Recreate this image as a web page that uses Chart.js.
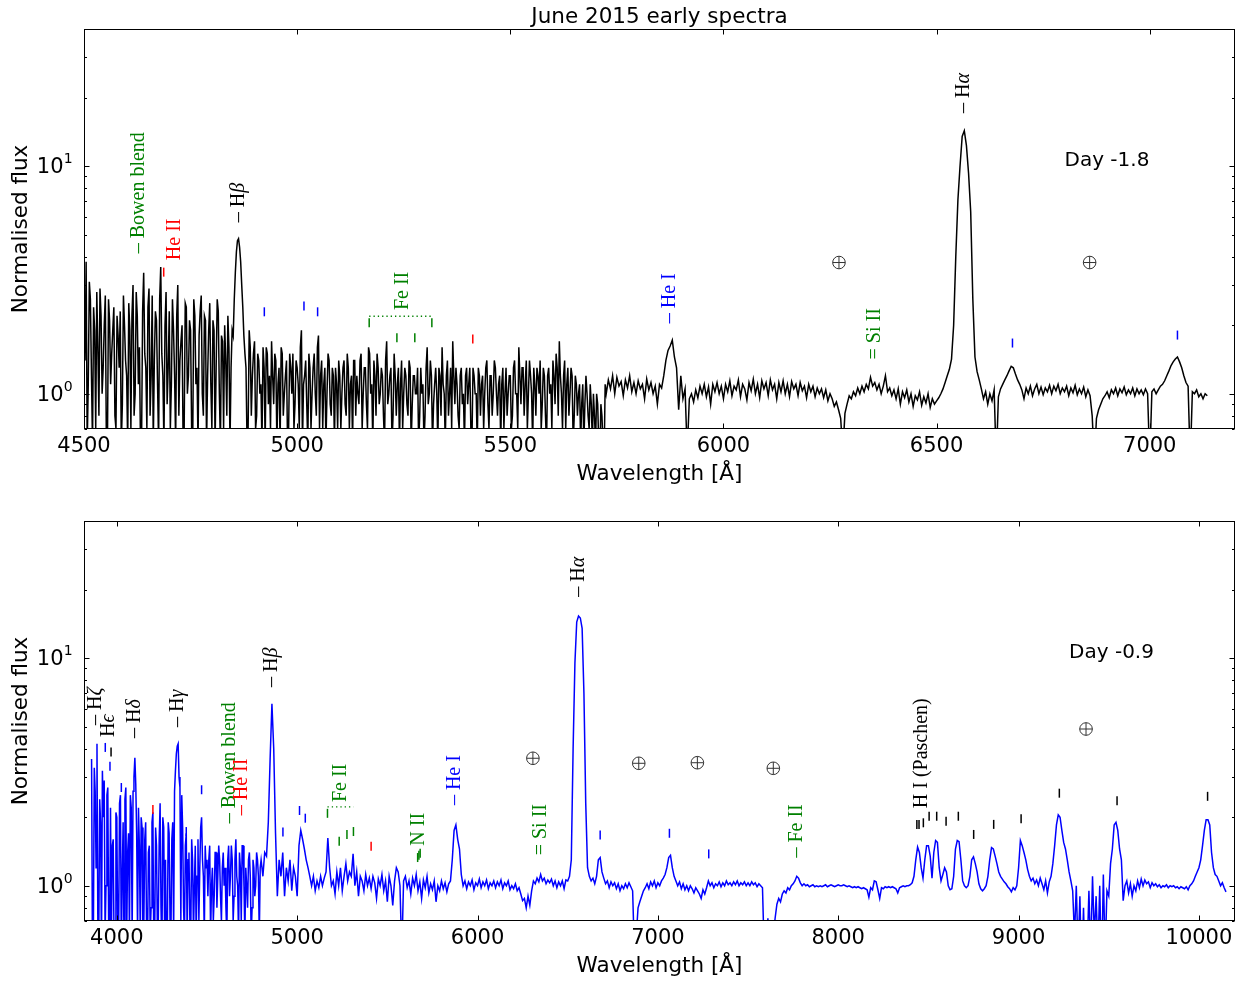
<!DOCTYPE html>
<html>
<head>
    <meta charset="UTF-8">
    <title>June 2015 early spectra</title>
    <script src="https://cdn.jsdelivr.net/npm/chart.js@4.4.0/dist/chart.umd.min.js"></script>
    <style>
        body { margin: 0; background: #fff; }
        canvas { display: block; }
    </style>
</head>
<body>
    <canvas id="topPanel" width="1247" height="490"></canvas>
    <canvas id="bottomPanel" width="1247" height="493"></canvas>

    <script>
        // ---- Day -1.8 spectrum (black), 5 A grid starting at 4500 A ----
        const topStart = 4500;
        const topStep = 5;
        const topFlux = [
            2.9, 3.8, 1.1, 2.6, 0.6, 1.9, 2.8, 0.8, 2.2, 1.3, 2.7, 0.6, 2.1, 1.5, 2.4, 0.7, 1.8, 2.3, 0.9, 2.0,   // 4500
            1.2, 2.5, 0.7, 3.0, 1.0, 2.2, 1.6, 0.6, 3.4, 1.3, 2.4, 0.8, 2.7, 1.4, 2.1, 0.6, 3.6, 1.2, 2.0, 0.9,   // 4600
            2.3, 1.1, 1.9, 0.6, 3.0, 1.4, 2.0, 0.7, 2.4, 1.2, 1.9, 0.6, 2.2, 1.3, 1.8, 2.7, 0.8, 2.1, 1.2, 2.5,   // 4700
            0.7, 1.9, 1.3, 2.3, 0.6, 1.7, 2.0, 0.8, 1.6, 1.3, 1.8, 3.4, 4.7, 4.4, 3.0, 1.8, 1.3, 0.7, 1.6, 1.2,   // 4800
            1.7, 0.8, 1.4, 1.1, 1.6, 0.6, 1.5, 1.2, 1.7, 0.9, 1.4, 1.1, 0.6, 1.5, 1.0, 1.4, 0.7, 1.3, 1.5, 0.9,   // 4900
            1.3, 0.7, 1.9, 1.1, 1.4, 0.6, 1.3, 1.0, 1.5, 0.8, 1.8, 1.2, 0.7, 1.3, 1.0, 1.4, 0.8, 1.2, 1.3, 0.7,   // 5000
            1.2, 1.0, 1.4, 0.8, 1.3, 1.1, 0.6, 1.4, 1.2, 0.9, 1.5, 1.0, 1.3, 0.7, 1.5, 1.1, 1.4, 0.8, 1.3, 1.0,   // 5100
            1.2, 0.6, 1.7, 1.0, 1.3, 0.8, 1.2, 1.1, 0.6, 1.4, 1.0, 1.2, 0.8, 1.3, 0.9, 1.2, 1.0, 0.6, 1.3, 1.1,   // 5200
            0.8, 1.6, 1.0, 1.2, 0.9, 1.3, 0.6, 1.2, 1.6, 1.0, 1.2, 0.8, 1.3, 1.7, 0.9, 1.1, 0.7, 1.3, 1.0, 1.2,   // 5300
            0.9, 1.3, 0.6, 1.2, 1.0, 1.3, 0.8, 1.2, 1.0, 1.4, 0.7, 1.2, 1.0, 1.3, 0.8, 1.2, 1.1, 0.7, 1.3, 1.0,   // 5400
            1.2, 0.8, 1.4, 1.0, 1.6, 0.9, 1.3, 1.1, 0.7, 1.4, 1.0, 1.3, 0.8, 1.2, 1.4, 0.9, 1.2, 0.6, 1.3, 1.1,   // 5500
            1.4, 0.9, 1.3, 1.7, 1.0, 1.2, 0.7, 1.3, 1.0, 1.2, 0.8, 1.1, 1.0, 0.6, 1.1, 0.9, 1.0, 0.7, 0.9, 1.0,   // 5600
            0.6, 0.9, 0.5, 0.8, 0.5, 1.0, 1.15, 1.05, 1.2, 1.0, 1.18, 1.08, 1.13, 0.98, 1.15, 1.06, 1.2, 1.02, 1.12, 1.0,   // 5700
            1.14, 1.05, 1.1, 0.95, 1.16, 1.04, 1.12, 1.0, 1.08, 0.9, 1.1, 1.06, 1.2, 1.4, 1.55, 1.62, 1.72, 1.45, 1.3, 0.85, // 5800
            1.2, 0.95, 1.05, 0.55, 0.95, 1.0, 0.92, 1.04, 0.96, 1.08, 1.0, 1.1, 0.97, 1.07, 0.9, 1.1, 1.02, 1.12, 1.0, 1.08, // 5900
            0.95, 1.1, 1.02, 1.14, 0.98, 1.08, 1.04, 1.15, 0.97, 1.1, 1.05, 0.94, 1.12, 1.03, 1.16, 1.0, 1.1, 0.96, 1.14, 1.05, // 6000
            1.12, 0.98, 1.15, 1.04, 1.1, 0.95, 1.12, 1.02, 1.14, 1.0, 1.1, 0.97, 1.13, 1.05, 1.1, 0.98, 1.12, 1.03, 1.08, 0.96, // 6100
            1.1, 1.02, 1.08, 0.97, 1.06, 1.0, 1.05, 0.96, 1.04, 0.93, 1.0, 0.95, 0.88, 0.92, 0.85, 0.78, 0.55, 0.82, 0.9, 0.98, // 6200
            0.95, 1.02, 0.98, 1.06, 1.0, 1.08, 1.02, 1.1, 1.05, 1.18, 1.08, 1.12, 1.04, 1.1, 1.0, 1.08, 1.2, 1.02, 1.06, 0.98,  // 6300
            1.04, 0.95, 1.05, 0.9, 1.02, 0.96, 1.04, 0.92, 1.0, 0.88, 0.98, 0.94, 1.02, 0.89, 0.97, 0.91, 1.0, 0.87, 0.95, 0.9,  // 6400
            0.93, 0.96, 1.0, 1.05, 1.12, 1.2, 1.28, 1.42, 2.0, 4.0, 7.1, 10.0, 13.5, 14.3, 12.3, 9.3, 6.3, 2.6, 1.45, 1.25,      // 6500
            1.15, 1.05, 0.95, 1.02, 0.9, 1.0, 0.93, 1.04, 0.5, 0.97, 1.05, 1.1, 1.15, 1.2, 1.26, 1.32, 1.3, 1.22, 1.15, 1.1,     // 6600
            1.04, 0.95, 1.06, 1.0, 1.08, 0.98, 1.05, 1.1, 1.0, 1.07, 0.99, 1.06, 1.02, 1.09, 1.0, 1.08, 1.03, 1.1, 1.0, 1.06,    // 6700
            1.02, 1.08, 0.98, 1.06, 1.01, 1.09, 0.99, 1.05, 1.0, 1.07, 0.97, 1.04, 0.98, 0.8, 0.5, 0.78, 0.85, 0.9, 0.95, 0.98,  // 6800
            1.02, 0.96, 1.04, 1.0, 1.06, 0.98, 1.05, 1.01, 1.07, 0.99, 1.04, 1.0, 1.06, 0.98, 1.05, 1.0, 1.04, 0.99, 1.05, 1.0,  // 6900
            0.5, 1.02, 1.05, 1.0, 1.04, 1.08, 1.1, 1.14, 1.2, 1.26, 1.33, 1.38, 1.42, 1.45, 1.38, 1.3, 1.2, 1.12, 1.08, 0.5,     // 7000
            1.02, 1.0, 1.04, 0.97, 1.0, 0.95, 1.0, 0.98                                                                        // 7100
        ];
        // extra samples half-way between the ones above, in the noisy blue end (4502.5 .. 5722.5)
        const topMidStart = 4502.5;
        const topMidFlux = [
            1.4, 0.6, 3.1, 1.2, 2.4, 0.7, 1.6, 2.9, 1.0, 2.0, 0.6, 2.6, 1.1, 1.9, 0.8, 2.2, 1.3, 0.6, 2.7, 1.4,   // 4500
            0.6, 1.9, 2.2, 0.8, 2.8, 1.1, 0.6, 2.3, 1.5, 0.7, 2.9, 1.2, 0.6, 2.3, 1.1, 2.6, 1.5, 0.6, 2.8, 1.3,   // 4600
            0.7, 2.6, 1.2, 2.2, 0.8, 1.7, 0.6, 2.5, 1.0, 2.1, 0.7, 2.6, 1.1, 0.6, 2.3, 1.0, 2.2, 0.6, 1.9, 1.1,   // 4700
            2.1, 0.6, 2.6, 1.0, 1.8, 0.7, 1.4, 2.2, 0.6, 1.9, 2.6, 4.2, 4.8, 3.8, 2.4, 1.5, 0.6, 1.9, 0.8, 1.5,   // 4800
            0.7, 1.5, 1.0, 0.6, 1.3, 1.6, 0.9, 0.7, 1.2, 1.5, 0.6, 1.3, 1.6, 0.8, 1.2, 0.6, 1.5, 1.0, 0.7, 1.4,   // 4900
            1.1, 1.6, 0.6, 1.2, 0.9, 1.5, 0.7, 1.3, 1.0, 1.6, 0.7, 1.4, 1.1, 0.6, 1.5, 0.9, 1.3, 0.6, 1.1, 1.4,   // 5000
            0.7, 1.3, 0.9, 1.5, 0.7, 1.2, 1.4, 0.8, 1.0, 1.4, 0.7, 1.3, 0.9, 1.6, 1.0, 0.6, 1.2, 1.5, 0.9, 1.3,   // 5100
            0.8, 1.4, 0.9, 1.2, 0.6, 1.5, 0.8, 1.3, 1.1, 0.7, 1.3, 0.9, 1.4, 0.6, 1.2, 1.0, 1.3, 0.8, 1.0, 0.6,   // 5200
            1.3, 0.9, 1.4, 0.6, 1.1, 1.0, 1.3, 0.8, 1.1, 0.6, 1.4, 1.0, 0.7, 1.2, 1.3, 0.8, 1.2, 0.9, 0.6, 1.3,   // 5300
            1.1, 0.7, 1.3, 1.0, 0.6, 1.2, 1.1, 0.7, 1.3, 0.9, 1.2, 0.8, 1.4, 1.0, 1.1, 0.6, 1.3, 1.0, 0.8, 1.2,   // 5400
            0.7, 1.3, 1.0, 0.7, 1.2, 1.3, 0.8, 1.4, 1.0, 1.2, 0.6, 1.1, 1.3, 1.0, 0.7, 1.3, 0.8, 1.2, 1.0, 0.7,   // 5500
            1.2, 1.5, 0.8, 1.2, 0.7, 1.4, 1.1, 0.8, 1.3, 0.6, 1.2, 0.8, 1.1, 0.9, 0.6, 1.2, 0.8, 1.1, 0.6, 0.8,   // 5600
            1.0, 0.6, 0.9, 0.6, 1.1                                                                             // 5700
        ];

        // ---- Day -0.9 spectrum (blue), 10 A grid starting at 3860 A ----
        const bottomStart = 3860;
        const bottomStep = 10;
        const bottomFlux = [
            3.6, 0.6, 2.6, 4.2, 0.6, 1.9, 3.2, 2.9, 1.0, 2.7, 0.5, 0.6, 1.6, 0.6,   // 3860
            2.0, 0.6, 2.5, 1.1, 0.5, 2.7, 1.4, 0.6, 2.2, 2.6,       // 4000
            3.65, 1.7, 2.2, 0.6, 1.8, 0.7, 1.9, 0.5, 1.5, 0.8,      // 4100
            2.1, 0.6, 1.5, 0.7, 2.3, 0.5, 1.8, 1.3, 0.6, 1.7,       // 4200
            0.6, 1.9, 2.6, 3.8, 4.2, 2.7, 2.5, 0.8, 1.5, 0.6,       // 4300
            1.4, 0.6, 1.3, 1.0, 0.6, 1.6, 1.2, 2.0, 1.1, 1.5,       // 4400
            1.3, 1.3, 0.6, 1.2, 0.9, 1.4, 1.1, 1.3, 0.7, 1.4,       // 4500
            1.2, 0.6, 1.5, 1.1, 1.3, 0.9, 1.6, 1.0, 1.4, 0.7,       // 4600
            1.5, 0.6, 1.0, 1.3, 1.1, 0.8, 1.2, 1.0, 1.3, 0.6,       // 4700
            1.3, 1.1, 1.4, 1.35, 1.9, 3.6, 6.3, 4.0, 1.7, 0.9,      // 4800
            1.3, 1.1, 1.4, 0.9, 1.2, 1.05, 1.3, 0.95, 1.2, 1.1,     // 4900
            0.9, 1.5, 1.75, 1.6, 1.45, 1.3, 1.2, 1.1, 1.0, 1.1,     // 5000
            0.95, 1.05, 0.98, 1.1, 1.0, 1.08, 1.15, 1.62, 1.2, 1.0, // 5100
            1.05, 0.92, 1.15, 1.0, 1.2, 0.95, 1.1, 1.25, 1.05, 1.15,// 5200
            1.1, 1.38, 1.0, 1.15, 0.9, 1.1, 1.05, 0.95, 1.12, 1.0,  // 5300
            1.08, 0.97, 1.1, 1.03, 0.88, 1.07, 1.0, 1.12, 0.95, 1.05,   // 5400
            0.85, 1.1, 1.0, 0.82, 1.05, 1.2, 1.15, 1.0, 0.5, 1.05,      // 5500
            1.1, 0.98, 1.05, 0.92, 1.08, 1.0, 1.12, 0.95, 1.04, 0.88,   // 5600
            1.06, 0.98, 1.1, 0.93, 1.02, 0.96, 1.05, 0.85, 1.0, 0.95,   // 5700
            1.05, 0.97, 1.03, 0.94, 1.02, 1.05, 1.3, 1.75, 1.85, 1.6,   // 5800
            1.45, 1.12, 1.0, 1.05, 0.97, 1.04, 1.0, 1.06, 0.96, 1.03,   // 5900
            1.0, 1.07, 0.98, 1.04, 1.0, 1.06, 0.97, 1.03, 1.0, 1.05,    // 6000
            0.98, 1.04, 1.0, 1.06, 0.97, 1.03, 1.0, 1.05, 0.96, 1.0,    // 6100
            0.97, 1.02, 0.95, 0.98, 0.92, 0.86, 0.88, 0.8, 0.9, 0.82,   // 6200
            0.95, 1.05, 1.02, 1.08, 1.04, 1.12, 1.05, 1.08, 1.02, 1.06, // 6300
            1.03, 1.07, 1.0, 1.05, 0.98, 1.04, 1.0, 1.05, 0.97, 1.06,   // 6400
            1.05, 1.1, 1.3, 4.0, 9.5, 14.4, 15.3, 15.0, 13.5, 7.0,      // 6500
            2.3, 1.2, 1.1, 1.05, 1.08, 1.02, 1.1, 1.3, 1.33, 1.15,      // 6600
            1.08, 1.02, 1.05, 0.98, 1.04, 1.0, 1.03, 0.97, 1.02, 0.95,  // 6700
            1.0, 0.97, 1.02, 0.98, 1.03, 0.99, 0.95, 0.5, 0.6, 0.8,     // 6800
            0.85, 0.9, 0.95, 0.98, 1.02, 0.97, 1.04, 1.0, 1.05, 0.98,   // 6900
            1.03, 1.0, 1.05, 1.08, 1.12, 1.2, 1.33, 1.36, 1.2, 1.1,     // 7000
            1.05, 1.0, 1.04, 0.97, 1.02, 0.96, 1.0, 0.95, 1.0, 0.97,    // 7100
            0.93, 0.98, 0.95, 0.92, 0.88, 0.96, 0.92, 0.98, 1.05, 1.0,  // 7200
            1.03, 0.98, 1.02, 1.0, 1.04, 0.99, 1.03, 1.0, 1.05, 1.01,   // 7300
            1.03, 1.0, 1.04, 1.01, 1.05, 1.0, 1.03, 1.01, 1.04, 1.0,    // 7400
            1.03, 1.0, 1.04, 1.01, 1.03, 0.99, 1.02, 1.0, 0.98, 0.5,    // 7500
            0.4, 0.72, 0.4, 0.5, 0.6, 0.72, 0.83, 0.88, 0.85, 0.92,     // 7600
            0.95, 0.93, 0.98, 0.96, 1.0, 1.02, 1.05, 1.1, 1.08, 1.03,   // 7700
            1.0, 1.02, 1.0, 1.01, 0.99, 1.0, 1.01, 0.99, 1.0, 0.99,     // 7800
            1.0, 0.99, 1.0, 1.01, 0.99, 1.0, 1.01, 1.0, 0.99, 1.0,      // 7900
            1.01, 1.0, 1.0, 1.01, 1.0, 0.99, 1.0, 0.99, 0.98, 0.99,     // 8000
            0.98, 0.99, 0.98, 0.97, 0.98, 0.97, 0.96, 0.89, 0.98, 0.96, // 8100
            1.05, 1.04, 0.96, 0.88, 0.98, 0.97, 0.99, 0.98, 0.99, 0.98, // 8200
            0.99, 0.98, 0.97, 0.93, 0.98, 0.99, 1.0, 0.99, 1.0, 1.0,    // 8300
            1.01, 1.03, 1.1, 1.3, 1.48, 1.4, 1.2, 1.08, 1.3, 1.5,       // 8400
            1.5, 1.35, 1.08, 1.4, 1.58, 1.55, 1.2, 1.05, 1.12, 1.2,     // 8500
            1.15, 1.0, 0.96, 0.97, 1.1, 1.45, 1.58, 1.56, 1.3, 1.05,    // 8600
            1.0, 0.98, 1.0, 1.1, 1.3, 1.34, 1.25, 1.15, 1.02, 0.97,     // 8700
            0.95, 0.97, 1.0, 1.1, 1.3, 1.47, 1.45, 1.35, 1.25, 1.15,    // 8800
            1.1, 1.07, 1.04, 1.02, 0.99, 0.97, 0.94, 0.98, 0.96, 1.0,   // 8900
            1.2, 1.58, 1.5, 1.4, 1.3, 1.18, 1.1, 1.05, 1.08, 1.02,      // 9000
            1.06, 1.0, 1.08, 1.02, 0.96, 1.05, 0.93, 1.04, 1.1, 1.25,   // 9100
            1.5, 1.85, 2.05, 2.0, 1.75, 1.55, 1.45, 1.3, 1.15, 1.05,    // 9200
            0.95, 0.6, 1.0, 0.5, 0.9, 0.4, 0.8, 0.4, 0.5, 0.95,         // 9300
            0.5, 1.1, 0.6, 0.9, 0.5, 1.0, 0.4, 1.12, 0.5, 0.95,         // 9400
            0.9, 1.25, 1.45, 1.85, 1.9, 1.75, 1.45, 1.3, 0.86, 1.0,     // 9500
            1.05, 0.93, 1.02, 0.9, 1.0, 0.95, 1.05, 0.98, 1.07, 1.0,    // 9600
            1.06, 1.02, 1.04, 0.98, 1.03, 1.0, 1.02, 0.99, 1.01, 0.98,  // 9700
            1.0, 0.99, 1.01, 0.98, 1.0, 0.99, 1.0, 0.98, 0.99, 0.97,    // 9800
            0.99, 0.98, 0.97, 0.99, 0.96, 1.0, 1.02, 1.05, 1.1, 1.15,   // 9900
            1.2, 1.3, 1.5, 1.75, 1.95, 1.95, 1.85, 1.4, 1.2, 1.12,      // 10000
            1.1, 1.05, 1.0, 1.03, 0.98, 0.94                             // 10100
        ];
        // extra samples half-way between the ones above, in the noisy blue end (3865 .. 4795)
        const bottomMidStart = 3865;
        const bottomMidFlux = [
            0.5, 3.3, 1.2, 0.6, 2.4, 0.5, 2.0, 0.6, 2.5, 0.6, 2.2, 1.5, 0.5, 2.1,   // 3865
            0.6, 2.3, 0.5, 1.9, 2.4, 0.6, 1.7, 2.5, 0.6, 3.0,       // 4005
            2.8, 0.6, 1.5, 2.0, 0.5, 1.6, 0.6, 1.4, 0.6, 1.9,       // 4105
            0.5, 1.8, 0.6, 1.6, 0.8, 2.0, 0.6, 0.5, 1.9, 0.7,       // 4205
            1.6, 0.6, 3.2, 4.1, 3.0, 0.7, 1.8, 0.6, 1.7, 1.3,       // 4305
            0.7, 1.6, 0.6, 1.5, 1.1, 0.7, 1.8, 1.3, 0.6, 1.2,       // 4405
            0.9, 1.5, 1.0, 0.7, 1.4, 0.8, 1.5, 0.9, 1.2, 1.0,       // 4505
            0.8, 1.3, 0.9, 1.5, 0.7, 1.3, 1.1, 0.6, 1.2, 1.5,       // 4605
            1.0, 1.2, 0.8, 1.4, 0.6, 1.3, 0.9, 1.4, 1.1, 1.2        // 4705
        ];

        // tick values
        const topXTicks = [4500, 5000, 5500, 6000, 6500, 7000];
        const bottomXTicks = [4000, 5000, 6000, 7000, 8000, 9000, 10000];
        const yMajorTicks = [1, 10];
        const yMinorTicks = [0.7, 0.8, 0.9, 2, 3, 4, 5, 6, 7, 8, 9, 20, 30, 40];

        const K = '#000000', G = '#008000', R = '#ff0000', B = '#0000ff';

        // line labels: [wavelength, flux at start of text, text, colour]
        const topLabels = [
            [4628, 4.14, '– Bowen blend', G],
            [4712, 3.86, 'He II', R],
            [4862, 5.67, '– Hβ', K],
            [5248, 2.33, 'Fe II', G],
            [5874, 2.04, '– He I', B],
            [6355, 1.415, '= Si II', G],
            [6563, 17.1, '– Hα', K]
        ];
        // short line markers: [wavelength, flux, colour]
        const topMarks = [
            [4687, 3.42, R],
            [4923, 2.29, B], [5016, 2.43, B], [5048, 2.29, B],
            [5169, 2.05, G], [5234, 1.76, G], [5276, 1.76, G], [5316, 2.05, G],
            [5412, 1.74, R],
            [6678, 1.67, B], [7065, 1.81, B]
        ];
        const topTelluric = [[6271, 3.77], [6859, 3.77]];
        const topBrackets = [[5169, 5316, 2.19, G]];

        const bottomLabels = [
            [3884, 5.08, '– Hζ', K],
            [3955, 4.5, 'Hϵ', K],
            [4102, 4.46, '– Hδ', K],
            [4339, 4.98, '– Hγ', K],
            [4625, 1.88, '– Bowen blend', G],
            [4695, 2.04, '– He II', R],
            [4860, 7.47, '– Hβ', K],
            [5239, 2.33, 'Fe II', G],
            [5673, 1.50, 'N II', G],
            [5872, 2.26, '– He I', B],
            [6351, 1.36, '= Si II', G],
            [6560, 18.6, '– Hα', K],
            [7770, 1.33, '– Fe II', G],
            [8465, 2.19, 'H I (Paschen)', K]
        ];
        const bottomMarks = [
            [3936, 4.05, B], [3962, 3.35, B], [3968, 3.87, K],
            [4025, 2.70, B], [4200, 2.16, R], [4385, 1.73, B], [4470, 2.64, B],
            [4921, 1.72, B], [5013, 2.14, B], [5045, 1.98, B],
            [5168, 2.08, G], [5233, 1.57, G], [5276, 1.68, G], [5312, 1.73, G],
            [5410, 1.49, R],
            [5668, 1.33, G], [5675, 1.36, G], [5682, 1.39, G],
            [6680, 1.67, B], [7064, 1.70, B], [7282, 1.38, B],
            [8436, 1.86, K], [8448, 1.86, K], [8472, 1.89, K], [8504, 2.02, K], [8546, 2.02, K],
            [8598, 1.92, K], [8666, 2.02, K], [8751, 1.68, K], [8862, 1.86, K], [9014, 1.97, K],
            [9226, 2.55, K], [9546, 2.36, K], [10048, 2.47, K]
        ];
        const bottomTelluric = [[6307, 3.63], [6894, 3.45], [7219, 3.47], [7640, 3.28], [9374, 4.88]];
        const bottomBrackets = [[5168, 5312, 2.22, G]];

        const SANS = '"DejaVu Sans", sans-serif';
        const SERIF = '20px "Liberation Serif", serif';
        const SERIF_IT = 'italic 20px "Liberation Serif", serif';
        const GREEK = /[\u0370-\u03ff]/;

        const panels = {
            topPanel: {
                title: 'June 2015 early spectra', day: [6800, 10, 'Day -1.8'],
                xTicks: topXTicks, labels: topLabels, marks: topMarks,
                telluric: topTelluric, brackets: topBrackets
            },
            bottomPanel: {
                title: null, day: [9280, 10, 'Day -0.9'],
                xTicks: bottomXTicks, labels: bottomLabels, marks: bottomMarks,
                telluric: bottomTelluric, brackets: bottomBrackets
            }
        };

        function drawRotated(ctx, px, py, text, color) {
            ctx.save();
            ctx.translate(px, py);
            ctx.rotate(-Math.PI / 2);
            ctx.fillStyle = color;
            ctx.textBaseline = 'middle';
            ctx.textAlign = 'left';
            let cx = 0;
            for (const ch of text) {
                ctx.font = GREEK.test(ch) ? SERIF_IT : SERIF;
                ctx.fillText(ch, cx, 0);
                cx += ctx.measureText(ch).width;
            }
            ctx.restore();
        }

        const decor = {
            id: 'decor',
            afterDatasetsDraw(chart) {
                const p = panels[chart.canvas.id];
                const ctx = chart.ctx;
                const a = chart.chartArea;
                const x = chart.scales.x, y = chart.scales.y;
                ctx.save();

                // line identifications
                p.labels.forEach(([w, f, t, c]) => drawRotated(ctx, x.getPixelForValue(w), y.getPixelForValue(f), t, c));
                ctx.lineWidth = 1.5;
                p.marks.forEach(([w, f, c]) => {
                    const px = x.getPixelForValue(w), py = y.getPixelForValue(f);
                    ctx.strokeStyle = c;
                    ctx.beginPath();
                    ctx.moveTo(px, py - 4.5);
                    ctx.lineTo(px, py + 4.5);
                    ctx.stroke();
                });
                p.brackets.forEach(([w1, w2, f, c]) => {
                    const py = y.getPixelForValue(f);
                    ctx.strokeStyle = c;
                    ctx.lineWidth = 1.3;
                    ctx.setLineDash([1.3, 3]);
                    ctx.beginPath();
                    ctx.moveTo(x.getPixelForValue(w1), py);
                    ctx.lineTo(x.getPixelForValue(w2), py);
                    ctx.stroke();
                    ctx.setLineDash([]);
                });
                // telluric symbols
                ctx.strokeStyle = '#333';
                ctx.lineWidth = 1;
                p.telluric.forEach(([w, f]) => {
                    const px = x.getPixelForValue(w), py = y.getPixelForValue(f);
                    ctx.beginPath();
                    ctx.arc(px, py, 6.3, 0, Math.PI * 2);
                    ctx.moveTo(px - 6.3, py); ctx.lineTo(px + 6.3, py);
                    ctx.moveTo(px, py - 6.3); ctx.lineTo(px, py + 6.3);
                    ctx.stroke();
                });

                // frame
                ctx.strokeStyle = '#000';
                ctx.lineWidth = 1;
                const L = Math.round(a.left) + 0.5, T = Math.round(a.top) + 0.5;
                const Rr = Math.round(a.right) - 0.5, Bb = Math.round(a.bottom) - 0.5;
                ctx.strokeRect(L, T, Rr - L, Bb - T);

                // ticks, inward on all sides
                ctx.beginPath();
                p.xTicks.forEach(v => {
                    const px = Math.round(x.getPixelForValue(v)) + 0.5;
                    ctx.moveTo(px, Bb); ctx.lineTo(px, Bb - 5);
                    ctx.moveTo(px, T); ctx.lineTo(px, T + 5);
                });
                yMajorTicks.forEach(v => {
                    const py = Math.round(y.getPixelForValue(v)) + 0.5;
                    ctx.moveTo(L, py); ctx.lineTo(L + 5, py);
                    ctx.moveTo(Rr, py); ctx.lineTo(Rr - 5, py);
                });
                yMinorTicks.forEach(v => {
                    const py = Math.round(y.getPixelForValue(v)) + 0.5;
                    ctx.moveTo(L, py); ctx.lineTo(L + 2.5, py);
                    ctx.moveTo(Rr, py); ctx.lineTo(Rr - 2.5, py);
                });
                ctx.stroke();

                // tick labels
                ctx.fillStyle = '#000';
                ctx.font = '21px ' + SANS;
                ctx.textAlign = 'center';
                ctx.textBaseline = 'alphabetic';
                p.xTicks.forEach(v => ctx.fillText(String(v), x.getPixelForValue(v), a.bottom + 22.5));
                yMajorTicks.forEach(v => {
                    const py = y.getPixelForValue(v);
                    ctx.font = '21px ' + SANS;
                    ctx.textAlign = 'right';
                    ctx.fillText('10', a.left - 20.5, py + 7);
                    ctx.font = '14px ' + SANS;
                    ctx.textAlign = 'left';
                    ctx.fillText(String(Math.round(Math.log10(v))), a.left - 20.2, py - 3);
                });

                // axis titles
                ctx.font = '21.5px ' + SANS;
                ctx.textAlign = 'center';
                ctx.fillText('Wavelength [Å]', (a.left + a.right) / 2, a.bottom + 51.3);
                ctx.save();
                ctx.translate(26.5, (a.top + a.bottom) / 2);
                ctx.rotate(-Math.PI / 2);
                ctx.fillText('Normalised flux', 0, 0);
                ctx.restore();
                if (p.title) ctx.fillText(p.title, (a.left + a.right) / 2, 23.3);

                // epoch label
                ctx.font = '20px ' + SANS;
                ctx.textAlign = 'left';
                ctx.fillText(p.day[2], x.getPixelForValue(p.day[0]), y.getPixelForValue(p.day[1]));
                ctx.restore();
            }
        };

        function spectrumChart(id, start, step, flux, midStart, midFlux, color, xMin, xMax, padTop, padBottom) {
            const points = flux.map((f, i) => ({ x: start + i * step, y: f }))
                .concat(midFlux.map((f, i) => ({ x: midStart + i * step, y: f })))
                .sort((a, b) => a.x - b.x);
            return new Chart(document.getElementById(id), {
                type: 'line',
                data: {
                    datasets: [{
                        data: points,
                        borderColor: color,
                        borderWidth: 1.5,
                        pointRadius: 0,
                        fill: false,
                        tension: 0
                    }]
                },
                options: {
                    responsive: false,
                    animation: false,
                    devicePixelRatio: 1,
                    layout: { padding: { left: 84, right: 12, top: padTop, bottom: padBottom } },
                    plugins: { legend: { display: false }, tooltip: { enabled: false } },
                    scales: {
                        x: { type: 'linear', min: xMin, max: xMax, display: false },
                        y: { type: 'logarithmic', min: 0.7, max: 40, display: false }
                    }
                },
                plugins: [decor]
            });
        }

        spectrumChart('topPanel', topStart, topStep, topFlux, topMidStart, topMidFlux, '#000000', 4500, 7200, 29, 61);
        spectrumChart('bottomPanel', bottomStart, bottomStep, bottomFlux, bottomMidStart, bottomMidFlux, '#0000ff', 3818, 10200, 31, 62);
    </script>
</body>
</html>
